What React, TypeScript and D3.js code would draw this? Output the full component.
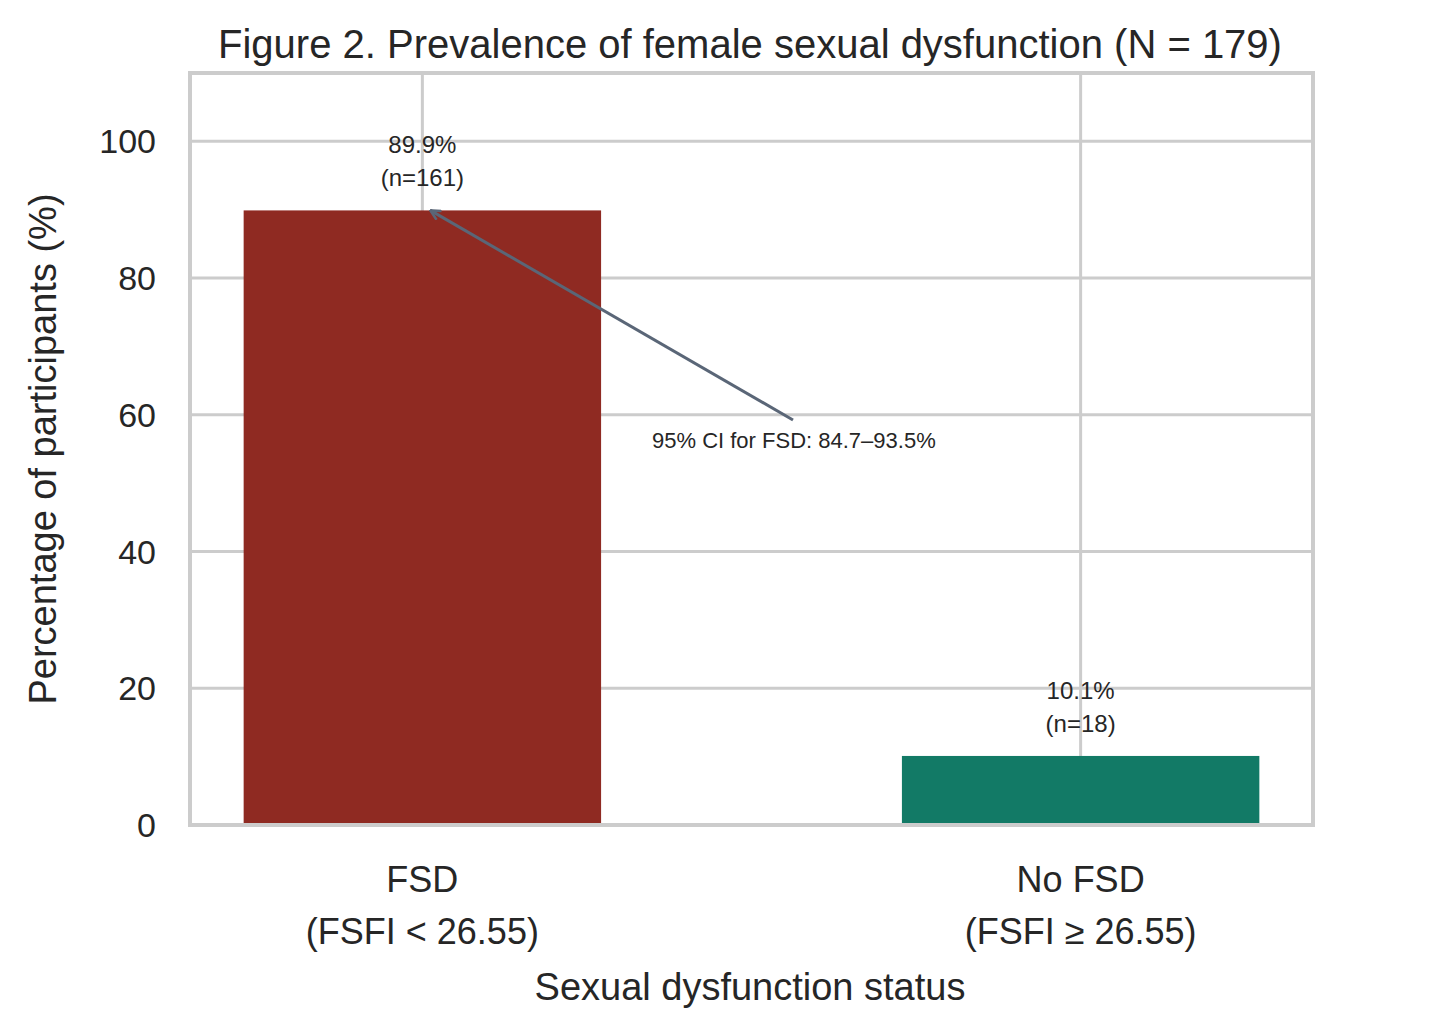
import React from 'react'
import * as d3 from 'd3'

const categories = ['FSD\n(FSFI < 26.55)', 'No FSD\n(FSFI ≥ 26.55)']
const percents = [89.9, 10.1]
const counts = [161, 18]
const colors = ['#8f2a22', '#127a66']
const yTicks = [0, 20, 40, 60, 80, 100]
const ciLabel = '95% CI for FSD: 84.7–93.5%'

export default function App() {
  const W = 1435
  const H = 1032
  const left = 190, right = 1313, top = 73, bottom = 825
  const x = d3.scaleLinear().domain([-0.353, 1.353]).range([left, right])
  const y = d3.scaleLinear().domain([0, 110]).range([bottom, top])
  const bw = 0.543
  const font = 'Arial, "Liberation Sans", sans-serif'
  const ink = '#262626'
  const grid = '#cccccc'

  return (
    <svg width={W} height={H} style={{ position: 'absolute', left: 0, top: 0 }} fontFamily={font}>
      <rect width={W} height={H} fill="white" />
      <defs>
        <marker id="ah" viewBox="0 0 12 12" refX="11" refY="6" markerWidth="12" markerHeight="12" markerUnits="userSpaceOnUse" orient="auto">
          <path d="M1,1 L11,6 L1,11" fill="none" stroke="#5a6677" strokeWidth="2.5" />
        </marker>
      </defs>
      <text x={750} y={58} textAnchor="middle" fontSize={40} fill={ink}>
        Figure 2. Prevalence of female sexual dysfunction (N = 179)
      </text>
      {yTicks.map(t => (
        <g key={t}>
          <line x1={left} x2={right} y1={y(t)} y2={y(t)} stroke={grid} strokeWidth={3} />
          <text x={156} y={y(t) + 12} textAnchor="end" fontSize={34} fill={ink}>{t}</text>
        </g>
      ))}
      {categories.map((c, i) => (
        <line key={c} x1={x(i)} x2={x(i)} y1={top} y2={bottom} stroke={grid} strokeWidth={3} />
      ))}
      {categories.map((c, i) => (
        <g key={'b' + i}>
          <rect x={x(i - bw / 2)} y={y(percents[i])} width={x(i + bw / 2) - x(i - bw / 2)}
            height={y(0) - y(percents[i])} fill={colors[i]} />
          <text x={x(i)} textAnchor="middle" fontSize={24} fill={ink}>
            <tspan x={x(i)} y={y(percents[i]) - 57}>{percents[i].toFixed(1)}%</tspan>
            <tspan x={x(i)} y={y(percents[i]) - 24}>(n={counts[i]})</tspan>
          </text>
          {c.split('\n').map((ln, k) => (
            <text key={k} x={x(i)} y={892 + k * 52} textAnchor="middle" fontSize={36} fill={ink}>{ln}</text>
          ))}
        </g>
      ))}
      <line x1={793} y1={420} x2={x(0) + 8} y2={y(percents[0])} stroke="#5a6677" strokeWidth={3} markerEnd="url(#ah)" />
      <text x={652} y={448} fontSize={22} fill={ink}>{ciLabel}</text>
      <rect x={left} y={top} width={right - left} height={bottom - top} fill="none" stroke={grid} strokeWidth={4} />
      <text x={750} y={1000} textAnchor="middle" fontSize={38} fill={ink}>Sexual dysfunction status</text>
      <text transform={`translate(56,${(top + bottom) / 2}) rotate(-90)`} textAnchor="middle" fontSize={38} fill={ink}>
        Percentage of participants (%)
      </text>
    </svg>
  )
}
